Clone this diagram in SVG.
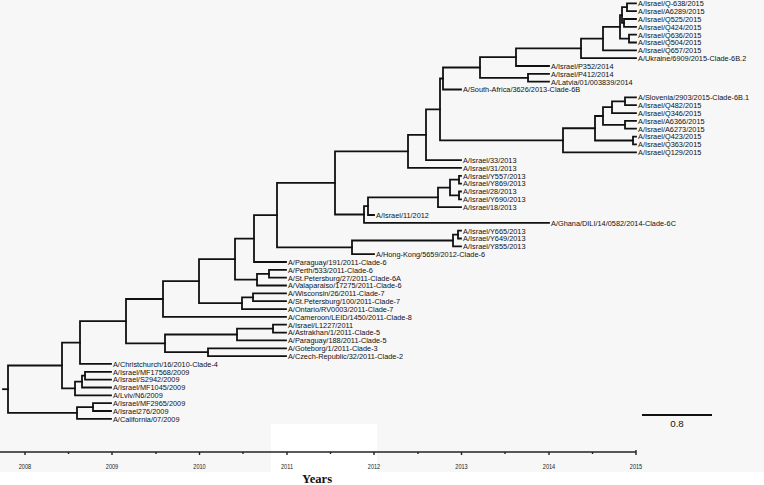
<svg xmlns="http://www.w3.org/2000/svg" width="764" height="485" viewBox="0 0 764 485">
<style>
.br{fill:none;stroke:#111;stroke-width:1.8;stroke-linejoin:miter;stroke-linecap:square}
.lb text{font-family:"Liberation Sans",Arial,sans-serif;font-size:8px;fill:#111}
.yr text{font-family:"Liberation Sans",Arial,sans-serif;font-size:8px;fill:#222;text-anchor:middle}
.ax{fill:none;stroke:#222;stroke-width:1.4}
</style>
<rect x="0" y="0" width="764" height="485" fill="#ffffff"/>
<rect x="0" y="0" width="764" height="472" fill="#f7f7f7"/>
<rect x="271" y="424" width="106" height="48" fill="#ffffff"/>
<g id="connectors" class="br">
<path d="M636 3.3H627V11.1H636"/>
<path d="M636 19H624V26.8H636"/>
<path d="M627 7.2H622V22.9H624"/>
<path d="M636 34.7H629V42.5H636"/>
<path d="M622 15.05H620V38.6H629"/>
<path d="M620 26.8H603V50.3H636"/>
<path d="M603 38.6H581V58.2H636"/>
<path d="M581 48.4H516V66H549"/>
<path d="M549 73.9H528V81.7H549"/>
<path d="M516 57.2H480V77.8H528"/>
<path d="M480 67.5H443V89.5H461"/>
<path d="M636 97.4H625V105.2H636"/>
<path d="M625 101.3H612V113.1H636"/>
<path d="M636 120.9H625V128.7H636"/>
<path d="M612 107.2H603V124.8H625"/>
<path d="M636 136.6H633V144.4H636"/>
<path d="M603 116H595V140.5H633"/>
<path d="M595 128.25H563V152.3H636"/>
<path d="M443 78.5H440V140.3H563"/>
<path d="M440 109.4H426V160.1H461"/>
<path d="M426 134.8H408V167.9H461"/>
<path d="M461 175.8H459V183.6H461"/>
<path d="M461 191.5H459V199.3H461"/>
<path d="M459 179.7H450V195.4H459"/>
<path d="M450 187.55H438V207.1H461"/>
<path d="M438 197.3H368V215H374"/>
<path d="M368 206.2H364V222.8H549"/>
<path d="M408 151.35H335V214.5H364"/>
<path d="M461 230.7H458V238.5H461"/>
<path d="M458 234.6H453V246.3H461"/>
<path d="M453 240.5H352V254.2H374"/>
<path d="M335 182.9H277V247.35H352"/>
<path d="M277 215.1H254V262H286"/>
<path d="M286 269.9H269V277.7H286"/>
<path d="M269 273.8H257V285.5H286"/>
<path d="M254 238.6H235V279.65H257"/>
<path d="M286 293.4H253V301.2H286"/>
<path d="M253 297.3H242V309.1H286"/>
<path d="M235 259.1H199V303.2H242"/>
<path d="M199 281.15H163V316.9H286"/>
<path d="M286 324.7H273V332.6H286"/>
<path d="M273 328.65H237V340.4H286"/>
<path d="M286 348.3H208V356.1H286"/>
<path d="M237 334.5H165V352.2H208"/>
<path d="M163 299H126V343.35H165"/>
<path d="M126 321.2H80V363.9H111"/>
<path d="M111 371.8H85V379.6H111"/>
<path d="M85 375.7H82V387.5H111"/>
<path d="M82 381.6H75V395.3H111"/>
<path d="M80 342.55H62V388.45H75"/>
<path d="M111 403.1H93V411H111"/>
<path d="M93 407.05H77V418.8H111"/>
<path d="M62 365.5H8V412.9H77"/>
<path d="M3 389.2H8"/>
</g>
<g class="lb" transform="scale(0.92,1)">
<g id="n01"><text x="693.5" y="6.2">A/Israel/Q-638/2015</text></g>
<g id="n02"><text x="693.5" y="14">A/Israel/A6289/2015</text></g>
<g id="n03"><text x="693.5" y="21.9">A/Israel/Q525/2015</text></g>
<g id="n04"><text x="693.5" y="29.7">A/Israel/Q424/2015</text></g>
<g id="n05"><text x="693.5" y="37.6">A/Israel/Q636/2015</text></g>
<g id="n06"><text x="693.5" y="45.4">A/Israel/Q504/2015</text></g>
<g id="n07"><text x="693.5" y="53.2">A/Israel/Q657/2015</text></g>
<g id="n08"><text x="693.5" y="61.1">A/Ukraine/6909/2015-Clade-6B.2</text></g>
<g id="n09"><text x="598.9" y="68.9">A/Israel/P352/2014</text></g>
<g id="n10"><text x="598.9" y="76.8">A/Israel/P412/2014</text></g>
<g id="n11"><text x="598.9" y="84.6">A/Latvia/01/003839/2014</text></g>
<g id="n12"><text x="503.3" y="92.4">A/South-Africa/3626/2013-Clade-6B</text></g>
<g id="n13"><text x="693.5" y="100.3">A/Slovenia/2903/2015-Clade-6B.1</text></g>
<g id="n14"><text x="693.5" y="108.1">A/Israel/Q482/2015</text></g>
<g id="n15"><text x="693.5" y="116">A/Israel/Q346/2015</text></g>
<g id="n16"><text x="693.5" y="123.8">A/Israel/A6366/2015</text></g>
<g id="n17"><text x="693.5" y="131.6">A/Israel/A6273/2015</text></g>
<g id="n18"><text x="693.5" y="139.5">A/Israel/Q423/2015</text></g>
<g id="n19"><text x="693.5" y="147.3">A/Israel/Q363/2015</text></g>
<g id="n20"><text x="693.5" y="155.2">A/Israel/Q129/2015</text></g>
<g id="n21"><text x="503.3" y="163">A/Israel/33/2013</text></g>
<g id="n22"><text x="503.3" y="170.8">A/Israel/31/2013</text></g>
<g id="n23"><text x="503.3" y="178.7">A/Israel/Y557/2013</text></g>
<g id="n24"><text x="503.3" y="186.5">A/Israel/Y869/2013</text></g>
<g id="n25"><text x="503.3" y="194.4">A/Israel/28/2013</text></g>
<g id="n26"><text x="503.3" y="202.2">A/Israel/Y690/2013</text></g>
<g id="n27"><text x="503.3" y="210">A/Israel/18/2013</text></g>
<g id="n28"><text x="408.7" y="217.9">A/Israel/11/2012</text></g>
<g id="n29"><text x="598.9" y="225.7">A/Ghana/DILI/14/0582/2014-Clade-6C</text></g>
<g id="n30"><text x="503.3" y="233.6">A/Israel/Y665/2013</text></g>
<g id="n31"><text x="503.3" y="241.4">A/Israel/Y649/2013</text></g>
<g id="n32"><text x="503.3" y="249.2">A/Israel/Y855/2013</text></g>
<g id="n33"><text x="408.7" y="257.1">A/Hong-Kong/5659/2012-Clade-6</text></g>
<g id="n34"><text x="313" y="264.9">A/Paraguay/191/2011-Clade-6</text></g>
<g id="n35"><text x="313" y="272.8">A/Perth/533/2011-Clade-6</text></g>
<g id="n36"><text x="313" y="280.6">A/St.Petersburg/27/2011-Clade-6A</text></g>
<g id="n37"><text x="313" y="288.4">A/Valaparaiso/17275/2011-Clade-6</text></g>
<g id="n38"><text x="313" y="296.3">A/Wisconsin/26/2011-Clade-7</text></g>
<g id="n39"><text x="313" y="304.1">A/St.Petersburg/100/2011-Clade-7</text></g>
<g id="n40"><text x="313" y="312">A/Ontario/RV0003/2011-Clade-7</text></g>
<g id="n41"><text x="313" y="319.8">A/Cameroon/LEID/1450/2011-Clade-8</text></g>
<g id="n42"><text x="313" y="327.6">A/Israel/L1227/2011</text></g>
<g id="n43"><text x="313" y="335.5">A/Astrakhan/1/2011-Clade-5</text></g>
<g id="n44"><text x="313" y="343.3">A/Paraguay/188/2011-Clade-5</text></g>
<g id="n45"><text x="313" y="351.2">A/Goteborg/1/2011-Clade-3</text></g>
<g id="n46"><text x="313" y="359">A/Czech-Republic/32/2011-Clade-2</text></g>
<g id="n47"><text x="122.8" y="366.8">A/Christchurch/16/2010-Clade-4</text></g>
<g id="n48"><text x="122.8" y="374.7">A/Israel/MF17568/2009</text></g>
<g id="n49"><text x="122.8" y="382.5">A/Israel/S2942/2009</text></g>
<g id="n50"><text x="122.8" y="390.4">A/Israel/MF1045/2009</text></g>
<g id="n51"><text x="122.8" y="398.2">A/Lviv/N6/2009</text></g>
<g id="n52"><text x="122.8" y="406">A/Israel/MF2965/2009</text></g>
<g id="n53"><text x="122.8" y="413.9">A/Israel276/2009</text></g>
<g id="n54"><text x="122.8" y="421.7">A/California/07/2009</text></g>
</g>
<g id="scale-bar">
<line x1="642" y1="415" x2="712" y2="415" stroke="#111" stroke-width="2.2"/>
<text x="677" y="427" font-family="Liberation Sans, Arial, sans-serif" font-size="9.8" fill="#111" text-anchor="middle">0.8</text>
</g>
<g id="axis">
<path class="ax" d="M0 452H636"/>
<path class="ax" d="M25 452V455M112 452V455M199.5 452V455M287 452V455M374 452V455M461.5 452V455M549 452V455M636 450V455"/>
<path class="ax" stroke-width="1" d="M68.5 452V454M156 452V454M243 452V454M330.5 452V454M418 452V454M505 452V454M592.5 452V454"/>
<g class="yr" transform="scale(0.7,1)">
<text x="35.7" y="469">2008</text>
<text x="160" y="469">2009</text>
<text x="285" y="469">2010</text>
<text x="410" y="469">2011</text>
<text x="534.3" y="469">2012</text>
<text x="659.3" y="469">2013</text>
<text x="784.3" y="469">2014</text>
<text x="908.6" y="469">2015</text>
</g>
<text x="302" y="482.5" font-family="Liberation Serif, 'Times New Roman', serif" font-size="12.6" font-weight="bold" fill="#111">Years</text>
</g>
</svg>
